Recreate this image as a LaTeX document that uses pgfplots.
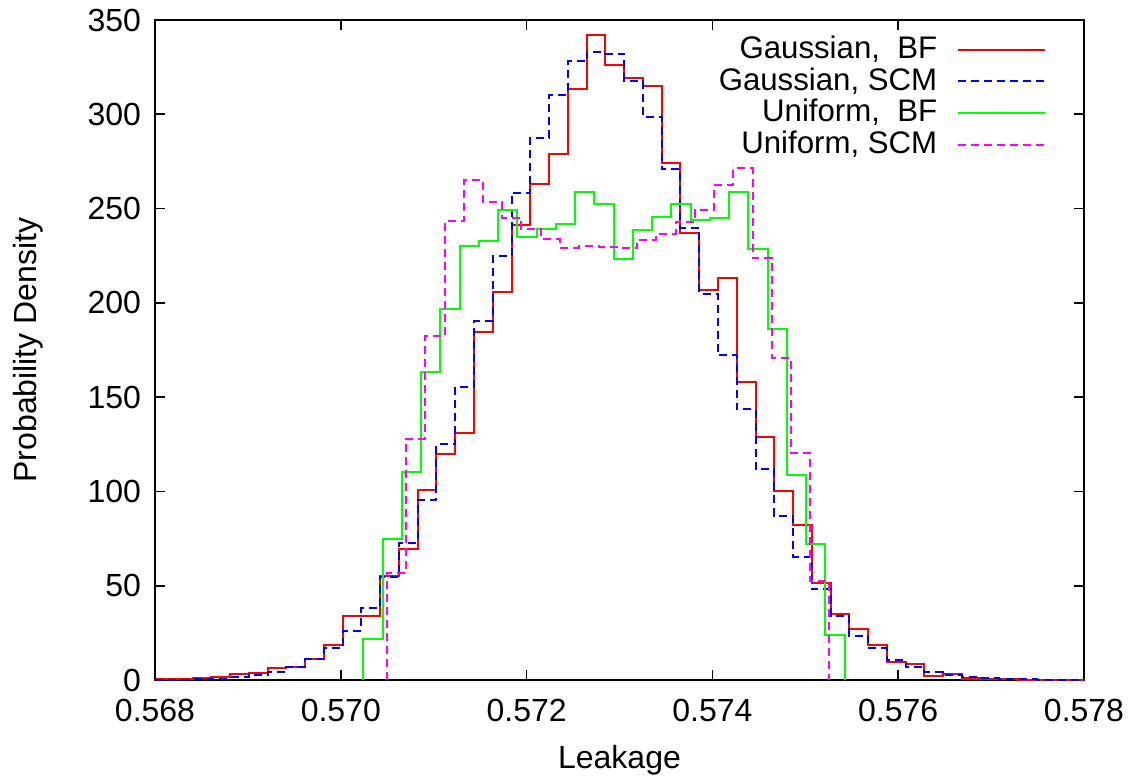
\documentclass[border=0pt]{standalone}
\usepackage{pgfplots}
\usepackage{pgfplotstable}
\pgfplotsset{compat=1.18}
\usepackage{fontspec}
\setmainfont{Liberation Sans}
\definecolor{gpred}{RGB}{255,0,0}
\definecolor{gpblue}{RGB}{0,0,255}
\definecolor{gpgreen}{RGB}{0,255,0}
\definecolor{gpmag}{RGB}{255,0,255}

\pgfplotstableread{
x y
0.568000 0.4
0.568202 0.4
0.568404 1.0
0.568606 1.5
0.568808 3.0
0.569010 3.7
0.569212 6.2
0.569414 6.7
0.569616 11.2
0.569818 18.8
0.570020 33.8
0.570222 33.8
0.570424 55.0
0.570626 69.5
0.570828 101.0
0.571030 119.7
0.571232 130.9
0.571434 184.4
0.571636 206.0
0.571838 241.5
0.572040 263.0
0.572242 279.0
0.572444 313.5
0.572646 342.0
0.572848 326.0
0.573050 319.0
0.573252 315.0
0.573454 274.0
0.573656 237.0
0.573858 207.0
0.574060 213.0
0.574262 158.0
0.574464 129.0
0.574666 100.2
0.574868 82.0
0.575070 51.6
0.575272 35.1
0.575474 27.1
0.575676 18.3
0.575878 9.8
0.576080 8.5
0.576282 2.2
0.576484 3.0
0.576686 0.8
0.576888 0.4
0.577090 0.3
0.577292 0.2
0.577494 0.1
0.577696 0.1
0.577898 0.0
0.578100 0.0
}\gaussbf

\pgfplotstableread{
x y
0.568000 0.2
0.568202 0.2
0.568404 0.4
0.568606 0.7
0.568808 1.4
0.569010 2.6
0.569212 4.4
0.569414 7.0
0.569616 11.0
0.569818 16.8
0.570020 26.2
0.570222 38.3
0.570424 54.6
0.570626 72.7
0.570828 95.7
0.571030 125.0
0.571232 155.5
0.571434 190.6
0.571636 224.7
0.571838 258.5
0.572040 287.6
0.572242 310.3
0.572444 328.0
0.572646 333.0
0.572848 332.0
0.573050 317.7
0.573252 298.6
0.573454 270.9
0.573656 239.8
0.573858 204.8
0.574060 172.3
0.574262 143.6
0.574464 111.7
0.574666 86.9
0.574868 65.3
0.575070 48.0
0.575272 34.0
0.575474 23.4
0.575676 16.8
0.575878 10.6
0.576080 6.7
0.576282 4.1
0.576484 2.6
0.576686 1.4
0.576888 0.9
0.577090 0.5
0.577292 0.3
0.577494 0.2
0.577696 0.1
0.577898 0.1
0.578100 0.0
}\gaussscm

\pgfplotstableread{
x y
0.570243 0
0.570243 21.8
0.570450 74.8
0.570657 110.5
0.570865 163.5
0.571072 196.8
0.571279 230.1
0.571486 232.6
0.571693 249.5
0.571901 234.7
0.572108 239.0
0.572315 241.6
0.572522 258.6
0.572729 252.3
0.572937 223.4
0.573144 238.8
0.573351 245.7
0.573558 252.4
0.573765 243.7
0.573973 245.1
0.574180 258.6
0.574387 228.7
0.574594 186.2
0.574801 108.5
0.575009 72.2
0.575216 23.9
0.575423 0
}\unifbf

\pgfplotstableread{
x y
0.570495 0
0.570495 56.7
0.570702 128.0
0.570909 182.3
0.571117 243.3
0.571324 265.1
0.571531 253.3
0.571738 245.2
0.571945 239.4
0.572153 234.0
0.572360 229.2
0.572567 230.0
0.572774 229.5
0.572981 228.9
0.573189 233.5
0.573396 236.7
0.573603 242.9
0.573810 249.3
0.574017 262.6
0.574225 271.3
0.574432 223.9
0.574639 170.6
0.574846 120.2
0.575053 52.7
0.575260 0
}\unifscm

\begin{document}
\begin{tikzpicture}[x=0.5pt,y=0.5pt]
\path[use as bounding box] (-155,-98) rectangle (979,680);
\begin{axis}[
  at={(0,0)}, anchor=south west,
  scale only axis,
  width=464.5pt, height=330pt,
  xmin=0.568, xmax=0.578, ymin=0, ymax=350,
  xtick={0.568,0.570,0.572,0.574,0.576,0.578},
  ytick={0,50,...,350},
  scaled x ticks=false,
  x tick label style={/pgf/number format/fixed, /pgf/number format/fixed zerofill, /pgf/number format/precision=3, yshift=-6pt},
  /pgf/number format/assume math mode=true,
  tick label style={font=\fontsize{16}{19}\selectfont},
  y tick label style={xshift=-3.5pt},
  tick align=inside,
  major tick length=5pt,
  minor tick num=0,
  axis line style={line width=1pt},
  every tick/.style={black, line width=0.8pt},
  xlabel={Leakage},
  ylabel={Probability Density},
  every axis x label/.style={at={(axis description cs:0.5,-0.1212)}, anchor=center, font=\fontsize{16}{19}\selectfont},
  every axis y label/.style={at={(axis description cs:-0.1367,0.5)}, anchor=center, rotate=90, font=\fontsize{16}{19}\selectfont},
  legend style={draw=none, fill=none, at={(axis description cs:0.9598,0.9786)}, anchor=north east,
    font=\fontsize{15.6}{19}\selectfont, inner sep=0pt, row sep=0pt, column sep=10pt,
    nodes={inner sep=0pt, text height=12pt, text depth=3.85pt}},
  legend cell align=right,
  legend plot pos=right,
  legend image code/.code={\draw[#1] (0pt,0.3pt) -- (43.5pt,0.3pt);},
  clip=true,
]
\addplot[const plot mark left, draw=gpred, line width=1pt, no markers] table {\gaussbf};
\addlegendentry{Gaussian,\ \ BF}
\addplot[const plot mark left, draw=gpblue, line width=1pt, dash pattern=on 4pt off 2.5pt, no markers] table {\gaussscm};
\addlegendentry{Gaussian, SCM}
\addplot[const plot mark left, draw=gpgreen, line width=1pt, no markers] table {\unifbf};
\addlegendentry{Uniform,\ \ BF}
\addplot[const plot mark left, draw=gpmag, line width=1pt, dash pattern=on 4pt off 2.5pt, no markers] table {\unifscm};
\addlegendentry{Uniform, SCM}
\end{axis}
\end{tikzpicture}
\end{document}
